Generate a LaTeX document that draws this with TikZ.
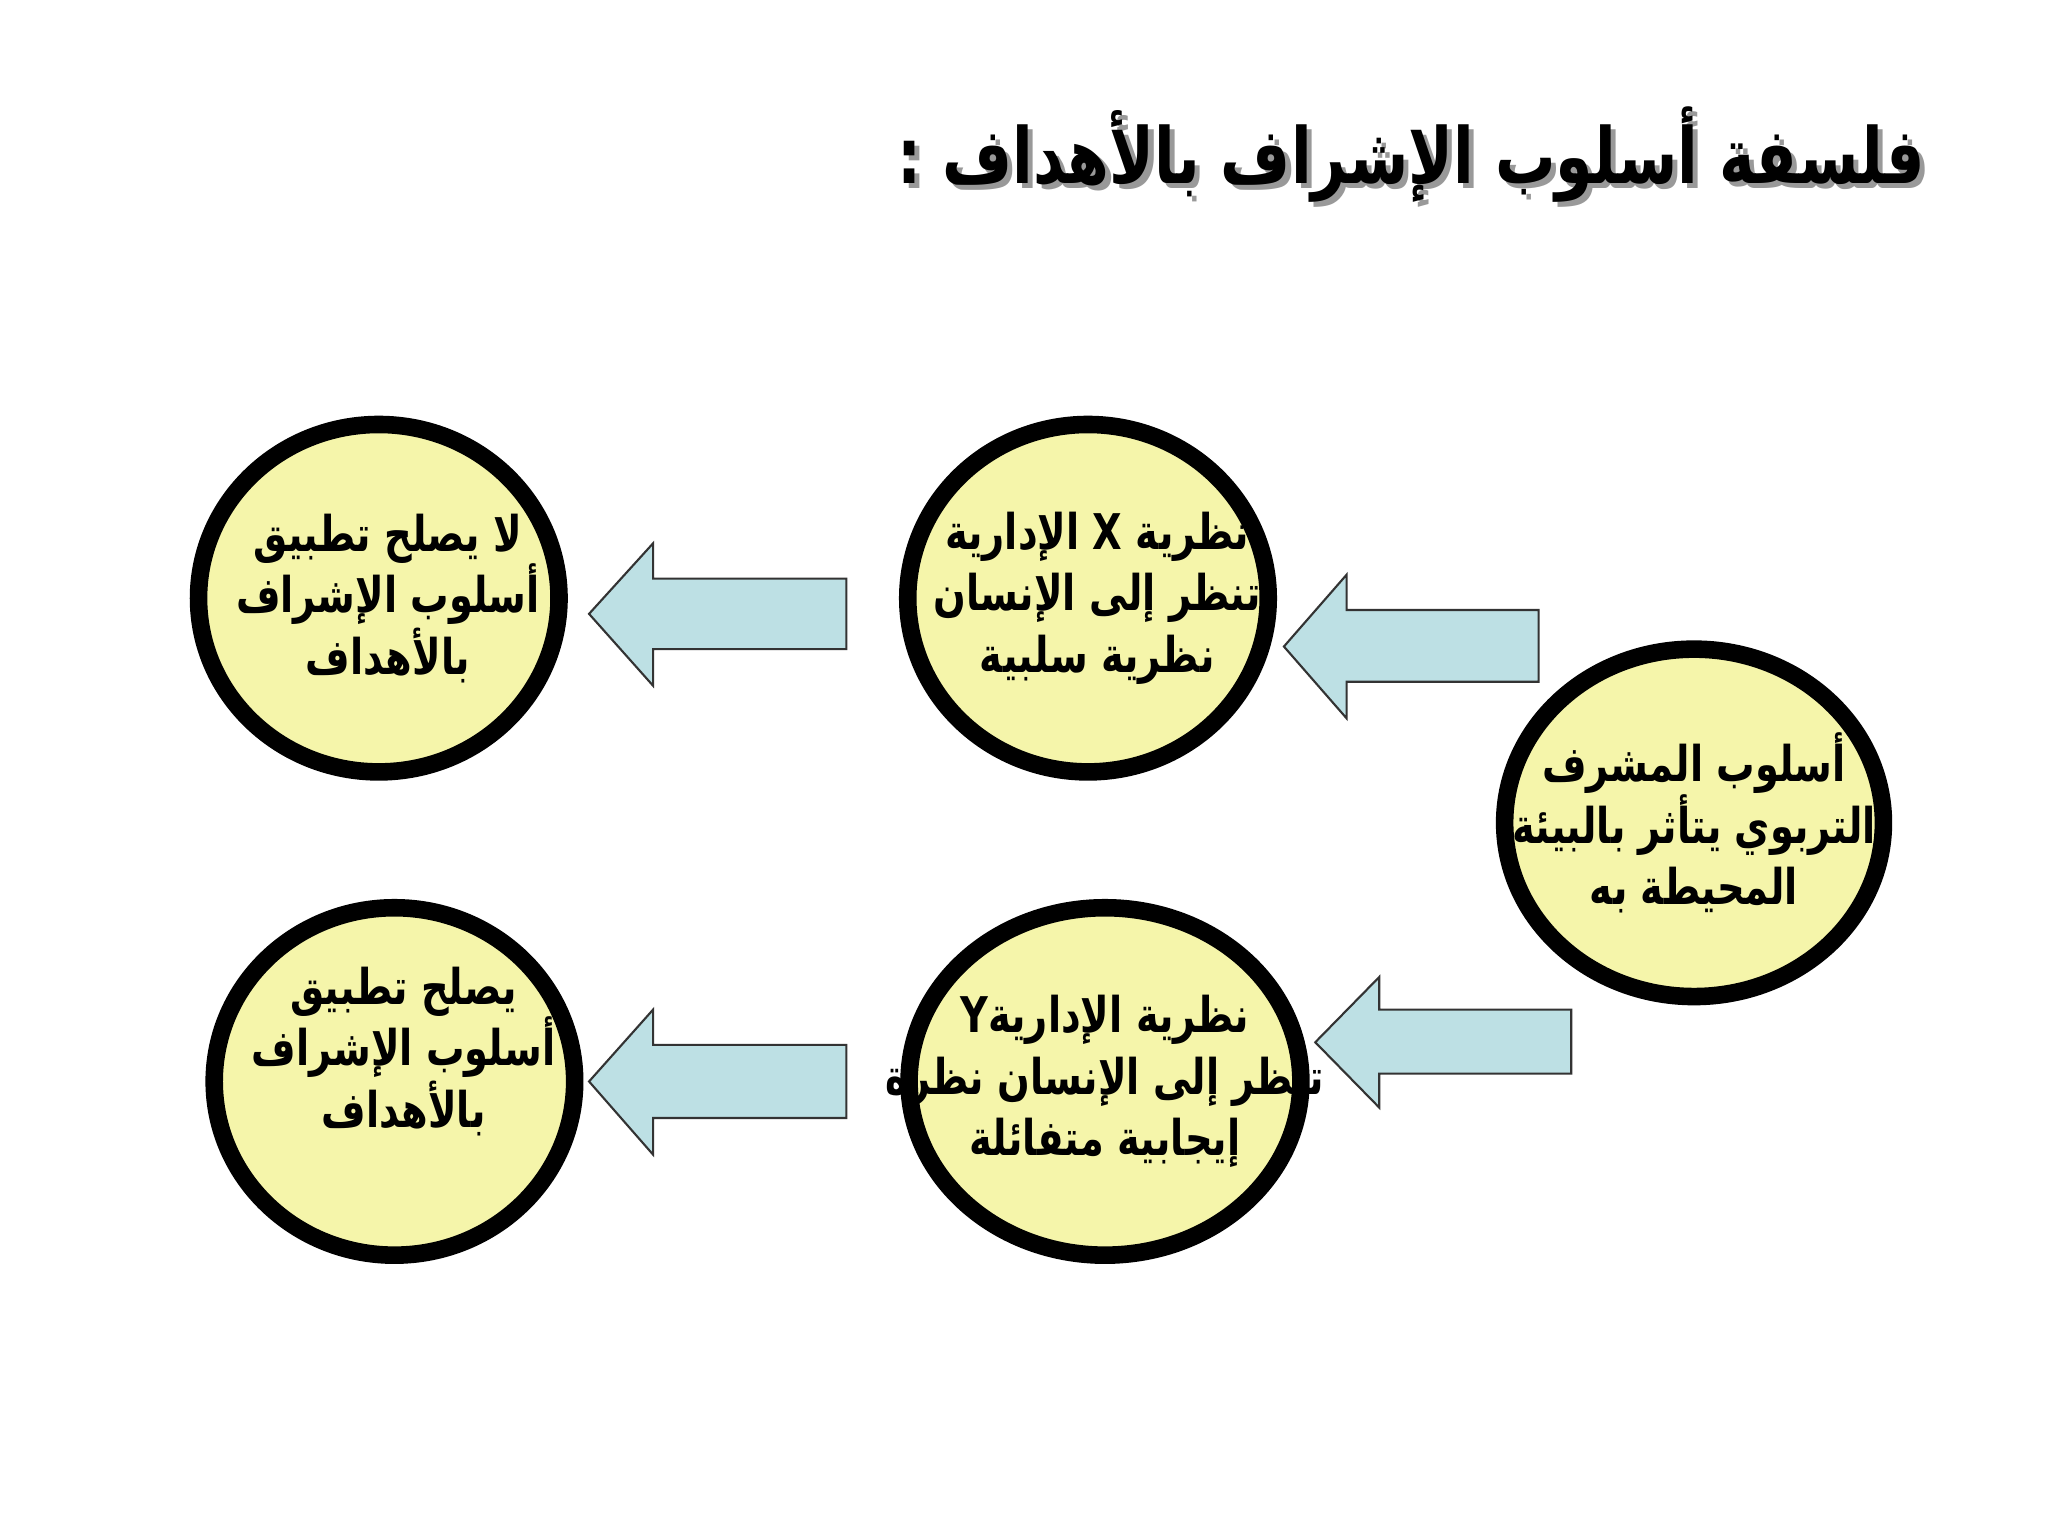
\documentclass[tikz,border=0pt]{standalone}
\usepackage{fontspec}
\TeXXeTstate=1
\newfontfamily\arabicfont[Script=Arabic,FakeStretch=0.78]{DejaVu Sans}
\newcommand{\ar}[1]{{\arabicfont\bfseries\beginR #1\endR}}
\definecolor{cfill}{RGB}{245,245,170}
\definecolor{afill}{RGB}{189,224,228}
\tikzset{circ/.style={draw=black,line width=5pt,fill=cfill},
 blk/.style={draw=black!80,line width=0.6pt,fill=afill,line join=miter},
 txt/.style={align=center,font=\fontsize{14}{17.5}\selectfont}}
\begin{document}
\begin{tikzpicture}[x=0.01306cm,y=-0.01306cm]
\useasboundingbox[fill=white] (0,0) rectangle (1568,1176);
% title
\node[anchor=east,font=\fontsize{22}{26}\selectfont,text=black!40] (tsh) at (1487,122) {\ar{فلسفة أسلوب الإشراف بالأهداف :}};
\node[anchor=east,font=\fontsize{22}{26}\selectfont] (title) at (1483,118) {\ar{فلسفة أسلوب الإشراف بالأهداف :}};
% circles
\draw[circ] (290,458) ellipse [x radius=138,y radius=133];
\draw[circ] (833,458) ellipse [x radius=138,y radius=133];
\draw[circ] (1297,630) ellipse [x radius=145,y radius=133];
\draw[circ] (302,828) ellipse [x radius=138,y radius=133];
\draw[circ] (846,828) ellipse [x radius=150,y radius=133];
\node[txt] (tl) at (297,458) {\ar{لا يصلح تطبيق}\\\ar{أسلوب الإشراف}\\\ar{بالأهداف}};
\node[txt] (tm) at (840,458) {\ar{نظرية X الإدارية}\\\ar{تنظر إلى الإنسان}\\\ar{نظرية سلبية}};
\node[txt] (r) at (1297,630) {\ar{أسلوب المشرف}\\\ar{التربوي يتأثر بالبيئة}\\\ar{المحيطة به}};
\node[txt] (bl) at (309,805) {\ar{يصلح تطبيق}\\\ar{أسلوب الإشراف}\\\ar{بالأهداف}};
\node[txt] (bm) at (846,828) {\ar{نظرية Yالإدارية}\\\ar{تنظر إلى الإنسان نظرة}\\\ar{إيجابية متفائلة}};
% block arrows
\draw[blk] (451,470) -- (500,416) -- (500,443) -- (648,443) -- (648,497) -- (500,497) -- (500,525) -- cycle;
\draw[blk] (983,495) -- (1031,440) -- (1031,467) -- (1178,467) -- (1178,522) -- (1031,522) -- (1031,550) -- cycle;
\draw[blk] (1007,798) -- (1056,748) -- (1056,773) -- (1203,773) -- (1203,822) -- (1056,822) -- (1056,848) -- cycle;
\draw[blk] (451,828) -- (500,773) -- (500,800) -- (648,800) -- (648,856) -- (500,856) -- (500,884) -- cycle;
\end{tikzpicture}
\end{document}
